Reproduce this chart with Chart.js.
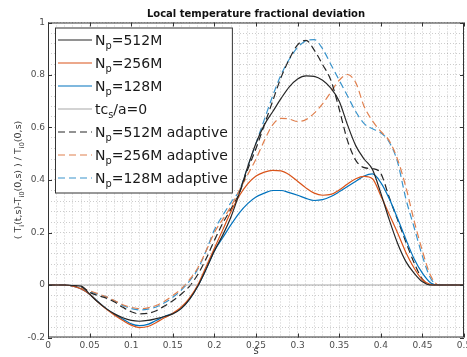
<!DOCTYPE html>
<html>
<head>
<meta charset="utf-8">
<script src="https://cdn.jsdelivr.net/npm/chart.js@4.4.0/dist/chart.umd.min.js"></script>
<style>
  html, body { margin: 0; padding: 0; background: #fff; }
</style>
</head>
<body>
<canvas id="tempChart" width="467" height="357"></canvas>
<script>
// s positions (x axis)
const sVals = [0, 0.01, 0.02, 0.03, 0.04, 0.05, 0.06, 0.07, 0.08, 0.09,
  0.10, 0.11, 0.12, 0.13, 0.14, 0.15, 0.16, 0.17, 0.18, 0.19,
  0.20, 0.21, 0.22, 0.23, 0.24, 0.25, 0.26, 0.27, 0.28, 0.29,
  0.30, 0.31, 0.32, 0.33, 0.34, 0.35, 0.36, 0.37, 0.38, 0.39,
  0.40, 0.41, 0.42, 0.43, 0.44, 0.45, 0.46, 0.47, 0.48, 0.49, 0.50];

// series values
const np512 = [0, 0, 0, -0.002, -0.004, -0.035, -0.065, -0.09, -0.11, -0.125,
  -0.135, -0.138, -0.135, -0.128, -0.12, -0.11, -0.09, -0.055, -0.005, 0.06,
  0.13, 0.19, 0.26, 0.35, 0.45, 0.54, 0.61, 0.66, 0.71, 0.755,
  0.785, 0.797, 0.795, 0.78, 0.75, 0.70, 0.61, 0.53, 0.48, 0.44,
  0.35, 0.25, 0.16, 0.09, 0.045, 0.012, 0, 0, 0, 0, 0];
const np256 = [0, 0, 0, -0.004, -0.015, -0.035, -0.065, -0.092, -0.115, -0.135,
  -0.153, -0.162, -0.158, -0.143, -0.125, -0.108, -0.085, -0.05, 0.0, 0.07,
  0.14, 0.21, 0.28, 0.34, 0.385, 0.415, 0.43, 0.437, 0.435, 0.42,
  0.395, 0.37, 0.35, 0.342, 0.345, 0.362, 0.385, 0.405, 0.414, 0.405,
  0.34, 0.27, 0.2, 0.125, 0.065, 0.02, 0.002, 0, 0, 0, 0];
const np128 = [0, 0, 0, -0.004, -0.015, -0.035, -0.063, -0.09, -0.112, -0.13,
  -0.148, -0.155, -0.15, -0.135, -0.12, -0.108, -0.09, -0.055, -0.005, 0.06,
  0.13, 0.18, 0.23, 0.275, 0.31, 0.335, 0.35, 0.36, 0.36, 0.352,
  0.342, 0.33, 0.322, 0.325, 0.337, 0.355, 0.375, 0.395, 0.415, 0.423,
  0.39, 0.33, 0.255, 0.175, 0.1, 0.045, 0.008, 0, 0, 0, 0];
const np512a = [0, 0, 0, -0.003, -0.006, -0.028, -0.04, -0.05, -0.065, -0.085,
  -0.102, -0.11, -0.108, -0.098, -0.08, -0.06, -0.035, -0.005, 0.04, 0.1,
  0.17, 0.235, 0.29, 0.35, 0.44, 0.52, 0.61, 0.70, 0.79, 0.86,
  0.915, 0.932, 0.895, 0.84, 0.78, 0.67, 0.55, 0.475, 0.447, 0.443,
  0.425, 0.335, 0.25, 0.165, 0.085, 0.022, 0, 0, 0, 0, 0];
const np256a = [0, 0, 0, -0.003, -0.012, -0.022, -0.033, -0.045, -0.06, -0.075,
  -0.085, -0.09, -0.087, -0.078, -0.062, -0.04, -0.015, 0.02, 0.065, 0.13,
  0.2, 0.25, 0.3, 0.36, 0.42, 0.48, 0.55, 0.61, 0.635, 0.632,
  0.623, 0.63, 0.655, 0.69, 0.735, 0.78, 0.802, 0.77, 0.68, 0.625,
  0.585, 0.55, 0.48, 0.375, 0.245, 0.13, 0.035, 0, 0, 0, 0];
const np128a = [0, 0, 0, -0.003, -0.012, -0.025, -0.035, -0.045, -0.06, -0.078,
  -0.09, -0.095, -0.092, -0.084, -0.068, -0.047, -0.02, 0.015, 0.06, 0.13,
  0.21, 0.265, 0.315, 0.36, 0.45, 0.54, 0.63, 0.72, 0.8, 0.86,
  0.905, 0.93, 0.935, 0.9, 0.84, 0.78, 0.72, 0.66, 0.615, 0.595,
  0.58, 0.545, 0.47, 0.33, 0.22, 0.11, 0.025, 0, 0, 0, 0];
const zeroS = [0, 0.5];
const zeroVals = [0, 0];

// tick labels
const xMajor = [0, 0.05, 0.1, 0.15, 0.2, 0.25, 0.3, 0.35, 0.4, 0.45, 0.5];
const yMajor = [-0.2, 0, 0.2, 0.4, 0.6, 0.8, 1];
const xMinorStep = 0.01;
const yMinorStep = 0.04;

const pts = (xs, ys) => xs.map((x, i) => ({ x: x, y: ys[i] }));

function gridValues(lo, hi, step) {
  const out = [];
  const n = Math.round((hi - lo) / step);
  for (let i = 0; i <= n; i++) out.push(+(lo + i * step).toFixed(4));
  return out;
}
const isMajor = (v, majors) => majors.some(m => Math.abs(m - v) < 1e-6);

// text with _x or _{xy} subscripts
function richParts(text) {
  const parts = [];
  const re = /_\{([^}]*)\}|_(.)/g;
  let last = 0, m;
  while ((m = re.exec(text))) {
    if (m.index > last) parts.push({ t: text.slice(last, m.index), sub: false });
    parts.push({ t: m[1] || m[2], sub: true });
    last = re.lastIndex;
  }
  if (last < text.length) parts.push({ t: text.slice(last), sub: false });
  return parts;
}
function drawRich(ctx, text, x, y, size, color, align) {
  const parts = richParts(text);
  const fontFor = p => (p.sub ? size * 0.7 : size) + 'px "DejaVu Sans"';
  let w = 0;
  parts.forEach(p => { ctx.font = fontFor(p); p.w = ctx.measureText(p.t).width; w += p.w; });
  let cx = align === 'center' ? x - w / 2 : x;
  const base = y + size * 0.36;
  ctx.fillStyle = color;
  ctx.textAlign = 'left';
  ctx.textBaseline = 'alphabetic';
  parts.forEach(p => {
    ctx.font = fontFor(p);
    ctx.fillText(p.t, cx, p.sub ? base + size * 0.32 : base);
    cx += p.w;
  });
  return w;
}

const decor = {
  id: 'decor',
  afterDatasetsDraw(chart) {
    const { ctx, chartArea: a, scales: { x, y } } = chart;
    ctx.save();
    ctx.strokeStyle = '#333';
    ctx.lineWidth = 1;
    ctx.setLineDash([]);
    ctx.beginPath();
    xMajor.forEach(v => {
      const px = Math.round(x.getPixelForValue(v)) + 0.5;
      ctx.moveTo(px, a.bottom); ctx.lineTo(px, a.bottom - 4);
      ctx.moveTo(px, a.top); ctx.lineTo(px, a.top + 4);
    });
    yMajor.forEach(v => {
      const py = Math.round(y.getPixelForValue(v)) + 0.5;
      ctx.moveTo(a.left, py); ctx.lineTo(a.left + 4, py);
      ctx.moveTo(a.right, py); ctx.lineTo(a.right - 4, py);
    });
    ctx.stroke();
    ctx.strokeRect(a.left + 0.5, a.top + 0.5, a.width - 1, a.height - 1);
    ctx.restore();
  },
  afterDraw(chart) {
    const { ctx, chartArea: a } = chart;
    ctx.save();
    // title
    ctx.font = 'bold 10px "DejaVu Sans"';
    ctx.fillStyle = '#111';
    ctx.textAlign = 'center';
    ctx.textBaseline = 'middle';
    ctx.fillText('Local temperature fractional deviation', (a.left + a.right) / 2, a.top - 8);

    // y axis title
    ctx.save();
    ctx.translate(18, (a.top + a.bottom) / 2);
    ctx.rotate(-Math.PI / 2);
    drawRich(ctx, '( T_i(t,s)-T_{i0}(0,s) ) / T_{i0}(0,s)', 0, 0, 9.5, '#333', 'center');
    ctx.restore();

    // legend box
    const sets = chart.data.datasets;
    const bx = a.left + 7, by = a.top + 5, row = 23;
    let maxW = 0;
    sets.forEach(ds => {
      richParts(ds.label).forEach(p => {});
    });
    ctx.font = '14px "DejaVu Sans"';
    const widths = sets.map(ds => {
      let w = 0;
      richParts(ds.label).forEach(p => {
        ctx.font = (p.sub ? 9.8 : 14) + 'px "DejaVu Sans"';
        w += ctx.measureText(p.t).width;
      });
      return w;
    });
    maxW = Math.max(...widths);
    const bw = 40 + maxW + 4, bh = row * sets.length + 4;
    ctx.fillStyle = '#fff';
    ctx.fillRect(bx, by, bw, bh);
    ctx.strokeStyle = '#333';
    ctx.lineWidth = 1;
    ctx.setLineDash([]);
    ctx.strokeRect(bx + 0.5, by + 0.5, bw, bh);
    sets.forEach((ds, i) => {
      const cy = by + 12 + i * row;
      ctx.save();
      ctx.strokeStyle = ds.borderColor;
      ctx.lineWidth = ds.borderWidth;
      ctx.setLineDash(ds.borderDash || []);
      ctx.beginPath();
      ctx.moveTo(bx + 3, cy + 0.5);
      ctx.lineTo(bx + 37, cy + 0.5);
      ctx.stroke();
      ctx.restore();
      drawRich(ctx, ds.label, bx + 40, cy, 14, '#1a1a1a', 'left');
    });
    ctx.restore();
  }
};

const line = (label, xs, ys, color, dash) => ({
  label: label,
  data: pts(xs, ys),
  borderColor: color,
  borderWidth: 1.2,
  borderDash: dash,
  pointRadius: 0,
  fill: false,
  cubicInterpolationMode: 'monotone'
});

const gridColor = 'rgba(0,0,0,0.2)';

new Chart(document.getElementById('tempChart').getContext('2d'), {
  type: 'line',
  data: {
    datasets: [
      line('N_p=512M', sVals, np512, '#262626', []),
      line('N_p=256M', sVals, np256, '#d95319', []),
      line('N_p=128M', sVals, np128, '#0072bd', []),
      line('tc_s/a=0', zeroS, zeroVals, '#a8a8a8', []),
      line('N_p=512M adaptive', sVals, np512a, '#262626', [7, 4]),
      line('N_p=256M adaptive', sVals, np256a, '#e0804f', [7, 4]),
      line('N_p=128M adaptive', sVals, np128a, '#3a94cc', [7, 4])
    ]
  },
  options: {
    responsive: false,
    animation: false,
    devicePixelRatio: 1,
    layout: { padding: { top: 22.5, right: 3, left: 0, bottom: 0 } },
    plugins: {
      legend: { display: false },
      tooltip: { enabled: false }
    },
    scales: {
      x: {
        type: 'linear',
        min: 0,
        max: 0.5,
        afterBuildTicks: s => { s.ticks = gridValues(0, 0.5, xMinorStep).map(v => ({ value: v })); },
        afterFit: s => { s.height = 19.5; s.paddingLeft = 0; s.paddingRight = 0; },
        grid: { color: gridColor, drawTicks: false, lineWidth: 1 },
        border: { display: false, dash: [1, 2] },
        ticks: {
          autoSkip: false,
          maxRotation: 0,
          padding: 3,
          color: '#4d4d4d',
          font: { family: 'DejaVu Sans', size: 9 },
          callback: v => isMajor(v, xMajor) ? String(+v.toFixed(2)) : ''
        },
        title: {
          display: true,
          text: 's',
          color: '#333',
          padding: 0,
          font: { family: 'DejaVu Sans', size: 10 }
        }
      },
      y: {
        type: 'linear',
        min: -0.2,
        max: 1,
        afterBuildTicks: s => { s.ticks = gridValues(-0.2, 1, yMinorStep).map(v => ({ value: v })); },
        afterFit: s => { s.width = 48; s.paddingTop = 0; s.paddingBottom = 0; },
        grid: { color: gridColor, drawTicks: false, lineWidth: 1 },
        border: { display: false, dash: [1, 2] },
        ticks: {
          autoSkip: false,
          padding: 3,
          color: '#4d4d4d',
          font: { family: 'DejaVu Sans', size: 9 },
          callback: v => isMajor(v, yMajor) ? String(+v.toFixed(1)) : ''
        }
      }
    }
  },
  plugins: [decor]
});
</script>
</body>
</html>
